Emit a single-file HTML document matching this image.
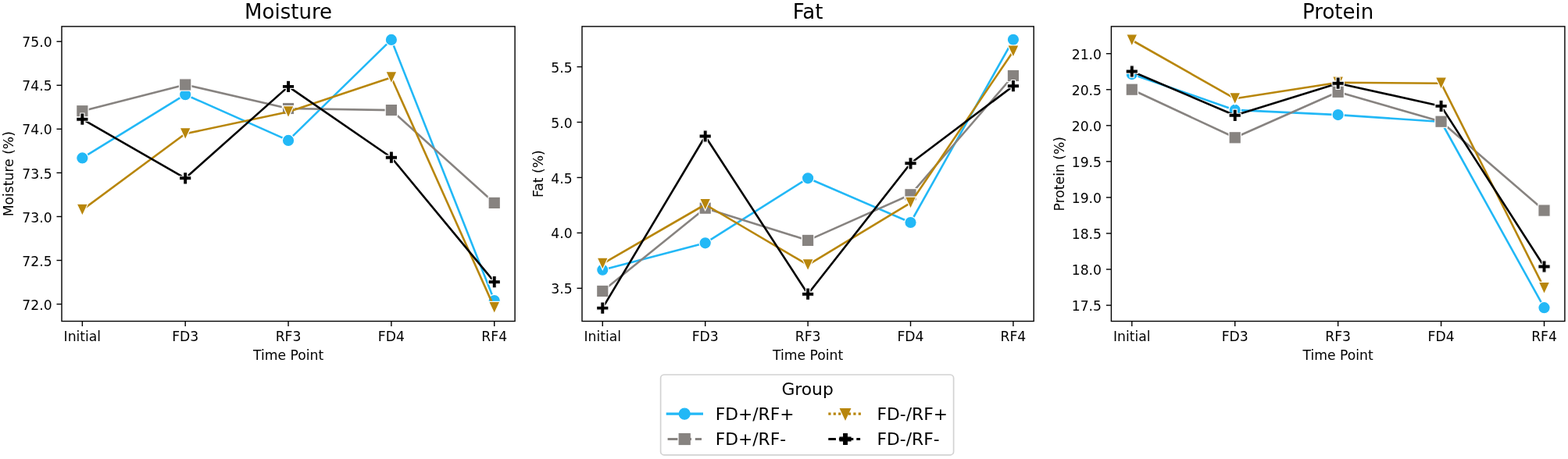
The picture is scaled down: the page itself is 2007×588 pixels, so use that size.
<!DOCTYPE html>
<html><head><meta charset="utf-8"><title>Moisture, Fat, Protein</title>
<style>
html,body{margin:0;padding:0;background:#fff;}
body{width:2007px;height:588px;overflow:hidden;}
svg{display:block;font-family:'DejaVu Sans', 'Liberation Sans', sans-serif;fill:#000;}
svg text{fill:#000;}
</style></head><body>
<svg width="2007" height="588" viewBox="0 0 2007 588"><rect x="0" y="0" width="2007" height="588" fill="#ffffff"/><g><polyline points="105.37,202.4 237.21,121.2 369.05,179.9 500.89,50.9 632.73,385.1" fill="none" stroke="#22b8f6" stroke-width="2.6" stroke-linejoin="round" stroke-linecap="butt"/><circle cx="105.37" cy="202.4" r="7.7" fill="#22b8f6" stroke="#ffffff" stroke-width="1.2" stroke-linejoin="miter"/><circle cx="237.21" cy="121.2" r="7.7" fill="#22b8f6" stroke="#ffffff" stroke-width="1.2" stroke-linejoin="miter"/><circle cx="369.05" cy="179.9" r="7.7" fill="#22b8f6" stroke="#ffffff" stroke-width="1.2" stroke-linejoin="miter"/><circle cx="500.89" cy="50.9" r="7.7" fill="#22b8f6" stroke="#ffffff" stroke-width="1.2" stroke-linejoin="miter"/><circle cx="632.73" cy="385.1" r="7.7" fill="#22b8f6" stroke="#ffffff" stroke-width="1.2" stroke-linejoin="miter"/><polyline points="105.37,142.2 237.21,108.5 369.05,139 500.89,141.1 632.73,259.9" fill="none" stroke="#878380" stroke-width="2.6" stroke-linejoin="round" stroke-linecap="butt"/><rect x="97.67" y="134.5" width="15.4" height="15.4" fill="#878380" stroke="#ffffff" stroke-width="1.2" stroke-linejoin="miter"/><rect x="229.51" y="100.8" width="15.4" height="15.4" fill="#878380" stroke="#ffffff" stroke-width="1.2" stroke-linejoin="miter"/><rect x="361.35" y="131.3" width="15.4" height="15.4" fill="#878380" stroke="#ffffff" stroke-width="1.2" stroke-linejoin="miter"/><rect x="493.19" y="133.4" width="15.4" height="15.4" fill="#878380" stroke="#ffffff" stroke-width="1.2" stroke-linejoin="miter"/><rect x="625.03" y="252.2" width="15.4" height="15.4" fill="#878380" stroke="#ffffff" stroke-width="1.2" stroke-linejoin="miter"/><polyline points="105.37,268.9 237.21,171.3 369.05,143.3 500.89,99.3 632.73,394.1" fill="none" stroke="#b8860b" stroke-width="2.6" stroke-linejoin="round" stroke-linecap="butt"/><polygon points="105.37,276.6 98.21,261.2 112.53,261.2" fill="#b8860b" stroke="#ffffff" stroke-width="1.2" stroke-linejoin="miter"/><polygon points="237.21,179 230.05,163.6 244.37,163.6" fill="#b8860b" stroke="#ffffff" stroke-width="1.2" stroke-linejoin="miter"/><polygon points="369.05,151 361.89,135.6 376.21,135.6" fill="#b8860b" stroke="#ffffff" stroke-width="1.2" stroke-linejoin="miter"/><polygon points="500.89,107 493.73,91.6 508.05,91.6" fill="#b8860b" stroke="#ffffff" stroke-width="1.2" stroke-linejoin="miter"/><polygon points="632.73,401.8 625.57,386.4 639.89,386.4" fill="#b8860b" stroke="#ffffff" stroke-width="1.2" stroke-linejoin="miter"/><polyline points="105.37,152.7 237.21,228.3 369.05,110.9 500.89,201.7 632.73,361.2" fill="none" stroke="#000000" stroke-width="2.6" stroke-linejoin="round" stroke-linecap="butt"/><polygon points="102.8,145 107.93,145 107.93,150.13 113.07,150.13 113.07,155.27 107.93,155.27 107.93,160.4 102.8,160.4 102.8,155.27 97.67,155.27 97.67,150.13 102.8,150.13" fill="#000000" stroke="#ffffff" stroke-width="1.2" stroke-linejoin="miter"/><polygon points="234.64,220.6 239.78,220.6 239.78,225.73 244.91,225.73 244.91,230.87 239.78,230.87 239.78,236 234.64,236 234.64,230.87 229.51,230.87 229.51,225.73 234.64,225.73" fill="#000000" stroke="#ffffff" stroke-width="1.2" stroke-linejoin="miter"/><polygon points="366.48,103.2 371.62,103.2 371.62,108.33 376.75,108.33 376.75,113.47 371.62,113.47 371.62,118.6 366.48,118.6 366.48,113.47 361.35,113.47 361.35,108.33 366.48,108.33" fill="#000000" stroke="#ffffff" stroke-width="1.2" stroke-linejoin="miter"/><polygon points="498.32,194 503.46,194 503.46,199.13 508.59,199.13 508.59,204.27 503.46,204.27 503.46,209.4 498.32,209.4 498.32,204.27 493.19,204.27 493.19,199.13 498.32,199.13" fill="#000000" stroke="#ffffff" stroke-width="1.2" stroke-linejoin="miter"/><polygon points="630.17,353.5 635.3,353.5 635.3,358.63 640.43,358.63 640.43,363.77 635.3,363.77 635.3,368.9 630.17,368.9 630.17,363.77 625.03,363.77 625.03,358.63 630.17,358.63" fill="#000000" stroke="#ffffff" stroke-width="1.2" stroke-linejoin="miter"/></g><rect x="79" y="33.9" width="580.1" height="377.6" fill="none" stroke="#000" stroke-width="1.4" stroke-linejoin="miter"/><line x1="72.5" y1="389.6" x2="79" y2="389.6" stroke="#000" stroke-width="1.4"/><text x="66.6" y="396.7" text-anchor="end" font-size="17.2">72.0</text><line x1="72.5" y1="333.53" x2="79" y2="333.53" stroke="#000" stroke-width="1.4"/><text x="66.6" y="340.63" text-anchor="end" font-size="17.2">72.5</text><line x1="72.5" y1="277.47" x2="79" y2="277.47" stroke="#000" stroke-width="1.4"/><text x="66.6" y="284.57" text-anchor="end" font-size="17.2">73.0</text><line x1="72.5" y1="221.4" x2="79" y2="221.4" stroke="#000" stroke-width="1.4"/><text x="66.6" y="228.5" text-anchor="end" font-size="17.2">73.5</text><line x1="72.5" y1="165.33" x2="79" y2="165.33" stroke="#000" stroke-width="1.4"/><text x="66.6" y="172.43" text-anchor="end" font-size="17.2">74.0</text><line x1="72.5" y1="109.27" x2="79" y2="109.27" stroke="#000" stroke-width="1.4"/><text x="66.6" y="116.37" text-anchor="end" font-size="17.2">74.5</text><line x1="72.5" y1="53.2" x2="79" y2="53.2" stroke="#000" stroke-width="1.4"/><text x="66.6" y="60.3" text-anchor="end" font-size="17.2">75.0</text><line x1="105.37" y1="411.5" x2="105.37" y2="418" stroke="#000" stroke-width="1.4"/><text x="105.37" y="437.3" text-anchor="middle" font-size="17.2">Initial</text><line x1="237.21" y1="411.5" x2="237.21" y2="418" stroke="#000" stroke-width="1.4"/><text x="237.21" y="437.3" text-anchor="middle" font-size="17.2">FD3</text><line x1="369.05" y1="411.5" x2="369.05" y2="418" stroke="#000" stroke-width="1.4"/><text x="369.05" y="437.3" text-anchor="middle" font-size="17.2">RF3</text><line x1="500.89" y1="411.5" x2="500.89" y2="418" stroke="#000" stroke-width="1.4"/><text x="500.89" y="437.3" text-anchor="middle" font-size="17.2">FD4</text><line x1="632.73" y1="411.5" x2="632.73" y2="418" stroke="#000" stroke-width="1.4"/><text x="632.73" y="437.3" text-anchor="middle" font-size="17.2">RF4</text><text x="369.05" y="461.2" text-anchor="middle" font-size="17.2">Time Point</text><text x="369.05" y="24.2" text-anchor="middle" font-size="26.0">Moisture</text><text x="0" y="0" transform="translate(17.1,222.7) rotate(-90)" text-anchor="middle" font-size="17.2">Moisture (%)</text><g><polyline points="771.28,345.7 902.69,311.3 1034.1,228.3 1165.51,285 1296.92,50.8" fill="none" stroke="#22b8f6" stroke-width="2.6" stroke-linejoin="round" stroke-linecap="butt"/><circle cx="771.28" cy="345.7" r="7.7" fill="#22b8f6" stroke="#ffffff" stroke-width="1.2" stroke-linejoin="miter"/><circle cx="902.69" cy="311.3" r="7.7" fill="#22b8f6" stroke="#ffffff" stroke-width="1.2" stroke-linejoin="miter"/><circle cx="1034.1" cy="228.3" r="7.7" fill="#22b8f6" stroke="#ffffff" stroke-width="1.2" stroke-linejoin="miter"/><circle cx="1165.51" cy="285" r="7.7" fill="#22b8f6" stroke="#ffffff" stroke-width="1.2" stroke-linejoin="miter"/><circle cx="1296.92" cy="50.8" r="7.7" fill="#22b8f6" stroke="#ffffff" stroke-width="1.2" stroke-linejoin="miter"/><polyline points="771.28,372.9 902.69,266.7 1034.1,307.9 1165.51,249.3 1296.92,97" fill="none" stroke="#878380" stroke-width="2.6" stroke-linejoin="round" stroke-linecap="butt"/><rect x="763.58" y="365.2" width="15.4" height="15.4" fill="#878380" stroke="#ffffff" stroke-width="1.2" stroke-linejoin="miter"/><rect x="894.99" y="259" width="15.4" height="15.4" fill="#878380" stroke="#ffffff" stroke-width="1.2" stroke-linejoin="miter"/><rect x="1026.4" y="300.2" width="15.4" height="15.4" fill="#878380" stroke="#ffffff" stroke-width="1.2" stroke-linejoin="miter"/><rect x="1157.81" y="241.6" width="15.4" height="15.4" fill="#878380" stroke="#ffffff" stroke-width="1.2" stroke-linejoin="miter"/><rect x="1289.22" y="89.3" width="15.4" height="15.4" fill="#878380" stroke="#ffffff" stroke-width="1.2" stroke-linejoin="miter"/><polyline points="771.28,337.8 902.69,262 1034.1,339.4 1165.51,259.9 1296.92,65.7" fill="none" stroke="#b8860b" stroke-width="2.6" stroke-linejoin="round" stroke-linecap="butt"/><polygon points="771.28,345.5 764.12,330.1 778.44,330.1" fill="#b8860b" stroke="#ffffff" stroke-width="1.2" stroke-linejoin="miter"/><polygon points="902.69,269.7 895.53,254.3 909.85,254.3" fill="#b8860b" stroke="#ffffff" stroke-width="1.2" stroke-linejoin="miter"/><polygon points="1034.1,347.1 1026.94,331.7 1041.26,331.7" fill="#b8860b" stroke="#ffffff" stroke-width="1.2" stroke-linejoin="miter"/><polygon points="1165.51,267.6 1158.35,252.2 1172.67,252.2" fill="#b8860b" stroke="#ffffff" stroke-width="1.2" stroke-linejoin="miter"/><polygon points="1296.92,73.4 1289.76,58 1304.08,58" fill="#b8860b" stroke="#ffffff" stroke-width="1.2" stroke-linejoin="miter"/><polyline points="771.28,394.6 902.69,174.5 1034.1,376.7 1165.51,209.3 1296.92,110.2" fill="none" stroke="#000000" stroke-width="2.6" stroke-linejoin="round" stroke-linecap="butt"/><polygon points="768.72,386.9 773.85,386.9 773.85,392.03 778.98,392.03 778.98,397.17 773.85,397.17 773.85,402.3 768.72,402.3 768.72,397.17 763.58,397.17 763.58,392.03 768.72,392.03" fill="#000000" stroke="#ffffff" stroke-width="1.2" stroke-linejoin="miter"/><polygon points="900.12,166.8 905.26,166.8 905.26,171.93 910.39,171.93 910.39,177.07 905.26,177.07 905.26,182.2 900.12,182.2 900.12,177.07 894.99,177.07 894.99,171.93 900.12,171.93" fill="#000000" stroke="#ffffff" stroke-width="1.2" stroke-linejoin="miter"/><polygon points="1031.53,369 1036.67,369 1036.67,374.13 1041.8,374.13 1041.8,379.27 1036.67,379.27 1036.67,384.4 1031.53,384.4 1031.53,379.27 1026.4,379.27 1026.4,374.13 1031.53,374.13" fill="#000000" stroke="#ffffff" stroke-width="1.2" stroke-linejoin="miter"/><polygon points="1162.94,201.6 1168.08,201.6 1168.08,206.73 1173.21,206.73 1173.21,211.87 1168.08,211.87 1168.08,217 1162.94,217 1162.94,211.87 1157.81,211.87 1157.81,206.73 1162.94,206.73" fill="#000000" stroke="#ffffff" stroke-width="1.2" stroke-linejoin="miter"/><polygon points="1294.35,102.5 1299.48,102.5 1299.48,107.63 1304.62,107.63 1304.62,112.77 1299.48,112.77 1299.48,117.9 1294.35,117.9 1294.35,112.77 1289.22,112.77 1289.22,107.63 1294.35,107.63" fill="#000000" stroke="#ffffff" stroke-width="1.2" stroke-linejoin="miter"/></g><rect x="745" y="33.9" width="578.2" height="377.6" fill="none" stroke="#000" stroke-width="1.4" stroke-linejoin="miter"/><line x1="738.5" y1="369.3" x2="745" y2="369.3" stroke="#000" stroke-width="1.4"/><text x="732.6" y="376.4" text-anchor="end" font-size="17.2">3.5</text><line x1="738.5" y1="298.38" x2="745" y2="298.38" stroke="#000" stroke-width="1.4"/><text x="732.6" y="305.48" text-anchor="end" font-size="17.2">4.0</text><line x1="738.5" y1="227.45" x2="745" y2="227.45" stroke="#000" stroke-width="1.4"/><text x="732.6" y="234.55" text-anchor="end" font-size="17.2">4.5</text><line x1="738.5" y1="156.52" x2="745" y2="156.52" stroke="#000" stroke-width="1.4"/><text x="732.6" y="163.62" text-anchor="end" font-size="17.2">5.0</text><line x1="738.5" y1="85.6" x2="745" y2="85.6" stroke="#000" stroke-width="1.4"/><text x="732.6" y="92.7" text-anchor="end" font-size="17.2">5.5</text><line x1="771.28" y1="411.5" x2="771.28" y2="418" stroke="#000" stroke-width="1.4"/><text x="771.28" y="437.3" text-anchor="middle" font-size="17.2">Initial</text><line x1="902.69" y1="411.5" x2="902.69" y2="418" stroke="#000" stroke-width="1.4"/><text x="902.69" y="437.3" text-anchor="middle" font-size="17.2">FD3</text><line x1="1034.1" y1="411.5" x2="1034.1" y2="418" stroke="#000" stroke-width="1.4"/><text x="1034.1" y="437.3" text-anchor="middle" font-size="17.2">RF3</text><line x1="1165.51" y1="411.5" x2="1165.51" y2="418" stroke="#000" stroke-width="1.4"/><text x="1165.51" y="437.3" text-anchor="middle" font-size="17.2">FD4</text><line x1="1296.92" y1="411.5" x2="1296.92" y2="418" stroke="#000" stroke-width="1.4"/><text x="1296.92" y="437.3" text-anchor="middle" font-size="17.2">RF4</text><text x="1034.1" y="461.2" text-anchor="middle" font-size="17.2">Time Point</text><text x="1034.1" y="24.2" text-anchor="middle" font-size="26.0">Fat</text><text x="0" y="0" transform="translate(694.5,222.7) rotate(-90)" text-anchor="middle" font-size="17.2">Fat (%)</text><g><polyline points="1448.79,95.1 1580.72,140.9 1712.65,147.1 1844.58,156 1976.51,394.2" fill="none" stroke="#22b8f6" stroke-width="2.6" stroke-linejoin="round" stroke-linecap="butt"/><circle cx="1448.79" cy="95.1" r="7.7" fill="#22b8f6" stroke="#ffffff" stroke-width="1.2" stroke-linejoin="miter"/><circle cx="1580.72" cy="140.9" r="7.7" fill="#22b8f6" stroke="#ffffff" stroke-width="1.2" stroke-linejoin="miter"/><circle cx="1712.65" cy="147.1" r="7.7" fill="#22b8f6" stroke="#ffffff" stroke-width="1.2" stroke-linejoin="miter"/><circle cx="1844.58" cy="156" r="7.7" fill="#22b8f6" stroke="#ffffff" stroke-width="1.2" stroke-linejoin="miter"/><circle cx="1976.51" cy="394.2" r="7.7" fill="#22b8f6" stroke="#ffffff" stroke-width="1.2" stroke-linejoin="miter"/><polyline points="1448.79,114.7 1580.72,176.3 1712.65,117.8 1844.58,155.7 1976.51,269.6" fill="none" stroke="#878380" stroke-width="2.6" stroke-linejoin="round" stroke-linecap="butt"/><rect x="1441.09" y="107" width="15.4" height="15.4" fill="#878380" stroke="#ffffff" stroke-width="1.2" stroke-linejoin="miter"/><rect x="1573.02" y="168.6" width="15.4" height="15.4" fill="#878380" stroke="#ffffff" stroke-width="1.2" stroke-linejoin="miter"/><rect x="1704.95" y="110.1" width="15.4" height="15.4" fill="#878380" stroke="#ffffff" stroke-width="1.2" stroke-linejoin="miter"/><rect x="1836.88" y="148" width="15.4" height="15.4" fill="#878380" stroke="#ffffff" stroke-width="1.2" stroke-linejoin="miter"/><rect x="1968.81" y="261.9" width="15.4" height="15.4" fill="#878380" stroke="#ffffff" stroke-width="1.2" stroke-linejoin="miter"/><polyline points="1448.79,51.5 1580.72,126.3 1712.65,105.7 1844.58,106.7 1976.51,369.1" fill="none" stroke="#b8860b" stroke-width="2.6" stroke-linejoin="round" stroke-linecap="butt"/><polygon points="1448.79,59.2 1441.63,43.8 1455.95,43.8" fill="#b8860b" stroke="#ffffff" stroke-width="1.2" stroke-linejoin="miter"/><polygon points="1580.72,134 1573.56,118.6 1587.88,118.6" fill="#b8860b" stroke="#ffffff" stroke-width="1.2" stroke-linejoin="miter"/><polygon points="1712.65,113.4 1705.49,98 1719.81,98" fill="#b8860b" stroke="#ffffff" stroke-width="1.2" stroke-linejoin="miter"/><polygon points="1844.58,114.4 1837.42,99 1851.74,99" fill="#b8860b" stroke="#ffffff" stroke-width="1.2" stroke-linejoin="miter"/><polygon points="1976.51,376.8 1969.35,361.4 1983.67,361.4" fill="#b8860b" stroke="#ffffff" stroke-width="1.2" stroke-linejoin="miter"/><polyline points="1448.79,91.5 1580.72,147.8 1712.65,106.7 1844.58,135.9 1976.51,341.5" fill="none" stroke="#000000" stroke-width="2.6" stroke-linejoin="round" stroke-linecap="butt"/><polygon points="1446.22,83.8 1451.35,83.8 1451.35,88.93 1456.49,88.93 1456.49,94.07 1451.35,94.07 1451.35,99.2 1446.22,99.2 1446.22,94.07 1441.09,94.07 1441.09,88.93 1446.22,88.93" fill="#000000" stroke="#ffffff" stroke-width="1.2" stroke-linejoin="miter"/><polygon points="1578.15,140.1 1583.28,140.1 1583.28,145.23 1588.42,145.23 1588.42,150.37 1583.28,150.37 1583.28,155.5 1578.15,155.5 1578.15,150.37 1573.02,150.37 1573.02,145.23 1578.15,145.23" fill="#000000" stroke="#ffffff" stroke-width="1.2" stroke-linejoin="miter"/><polygon points="1710.08,99 1715.22,99 1715.22,104.13 1720.35,104.13 1720.35,109.27 1715.22,109.27 1715.22,114.4 1710.08,114.4 1710.08,109.27 1704.95,109.27 1704.95,104.13 1710.08,104.13" fill="#000000" stroke="#ffffff" stroke-width="1.2" stroke-linejoin="miter"/><polygon points="1842.02,128.2 1847.15,128.2 1847.15,133.33 1852.28,133.33 1852.28,138.47 1847.15,138.47 1847.15,143.6 1842.02,143.6 1842.02,138.47 1836.88,138.47 1836.88,133.33 1842.02,133.33" fill="#000000" stroke="#ffffff" stroke-width="1.2" stroke-linejoin="miter"/><polygon points="1973.95,333.8 1979.08,333.8 1979.08,338.93 1984.21,338.93 1984.21,344.07 1979.08,344.07 1979.08,349.2 1973.95,349.2 1973.95,344.07 1968.81,344.07 1968.81,338.93 1973.95,338.93" fill="#000000" stroke="#ffffff" stroke-width="1.2" stroke-linejoin="miter"/></g><rect x="1422.4" y="33.9" width="580.5" height="377.6" fill="none" stroke="#000" stroke-width="1.4" stroke-linejoin="miter"/><line x1="1415.9" y1="391.1" x2="1422.4" y2="391.1" stroke="#000" stroke-width="1.4"/><text x="1410" y="398.2" text-anchor="end" font-size="17.2">17.5</text><line x1="1415.9" y1="345.04" x2="1422.4" y2="345.04" stroke="#000" stroke-width="1.4"/><text x="1410" y="352.14" text-anchor="end" font-size="17.2">18.0</text><line x1="1415.9" y1="298.99" x2="1422.4" y2="298.99" stroke="#000" stroke-width="1.4"/><text x="1410" y="306.09" text-anchor="end" font-size="17.2">18.5</text><line x1="1415.9" y1="252.93" x2="1422.4" y2="252.93" stroke="#000" stroke-width="1.4"/><text x="1410" y="260.03" text-anchor="end" font-size="17.2">19.0</text><line x1="1415.9" y1="206.87" x2="1422.4" y2="206.87" stroke="#000" stroke-width="1.4"/><text x="1410" y="213.97" text-anchor="end" font-size="17.2">19.5</text><line x1="1415.9" y1="160.81" x2="1422.4" y2="160.81" stroke="#000" stroke-width="1.4"/><text x="1410" y="167.91" text-anchor="end" font-size="17.2">20.0</text><line x1="1415.9" y1="114.76" x2="1422.4" y2="114.76" stroke="#000" stroke-width="1.4"/><text x="1410" y="121.86" text-anchor="end" font-size="17.2">20.5</text><line x1="1415.9" y1="68.7" x2="1422.4" y2="68.7" stroke="#000" stroke-width="1.4"/><text x="1410" y="75.8" text-anchor="end" font-size="17.2">21.0</text><line x1="1448.79" y1="411.5" x2="1448.79" y2="418" stroke="#000" stroke-width="1.4"/><text x="1448.79" y="437.3" text-anchor="middle" font-size="17.2">Initial</text><line x1="1580.72" y1="411.5" x2="1580.72" y2="418" stroke="#000" stroke-width="1.4"/><text x="1580.72" y="437.3" text-anchor="middle" font-size="17.2">FD3</text><line x1="1712.65" y1="411.5" x2="1712.65" y2="418" stroke="#000" stroke-width="1.4"/><text x="1712.65" y="437.3" text-anchor="middle" font-size="17.2">RF3</text><line x1="1844.58" y1="411.5" x2="1844.58" y2="418" stroke="#000" stroke-width="1.4"/><text x="1844.58" y="437.3" text-anchor="middle" font-size="17.2">FD4</text><line x1="1976.51" y1="411.5" x2="1976.51" y2="418" stroke="#000" stroke-width="1.4"/><text x="1976.51" y="437.3" text-anchor="middle" font-size="17.2">RF4</text><text x="1712.65" y="461.2" text-anchor="middle" font-size="17.2">Time Point</text><text x="1712.65" y="24.2" text-anchor="middle" font-size="26.0">Protein</text><text x="0" y="0" transform="translate(1361.7,222.7) rotate(-90)" text-anchor="middle" font-size="17.2">Protein (%)</text><rect x="845.6" y="480" width="375" height="102.8" rx="4.4" ry="4.4" fill="#ffffff" fill-opacity="0.8" stroke="#d2d2d2" stroke-width="1.7"/><text x="1033.6" y="505.5" text-anchor="middle" font-size="21.8">Group</text><line x1="852.7" y1="530.2" x2="900" y2="530.2" stroke="#22b8f6" stroke-width="3.2" stroke-linecap="butt"/><circle cx="876.2" cy="530.2" r="7" fill="#22b8f6" stroke="#22b8f6" stroke-width="1.2" stroke-linejoin="miter"/><text x="915.7" y="537.8" font-size="21.8">FD+/RF+</text><line x1="854.6" y1="562.5" x2="898" y2="562.5" stroke="#878380" stroke-width="3.2" stroke-linecap="butt" stroke-dasharray="12.8,4.8"/><rect x="869.2" y="555.5" width="14" height="14" fill="#878380" stroke="#878380" stroke-width="1.2" stroke-linejoin="miter"/><text x="915.7" y="569.9" font-size="21.8">FD+/RF-</text><line x1="1060.3" y1="530.2" x2="1103.7" y2="530.2" stroke="#b8860b" stroke-width="3.2" stroke-linecap="butt" stroke-dasharray="3.2,3.2"/><polygon points="1082,537.5 1075.49,523.5 1088.51,523.5" fill="#b8860b" stroke="#b8860b" stroke-width="1.2" stroke-linejoin="miter"/><text x="1122.5" y="537.8" font-size="21.8">FD-/RF+</text><line x1="1060.3" y1="562.5" x2="1103.7" y2="562.5" stroke="#000000" stroke-width="3.2" stroke-linecap="butt" stroke-dasharray="9.6,4,4.8,4"/><polygon points="1079.67,555.5 1084.33,555.5 1084.33,560.17 1089,560.17 1089,564.83 1084.33,564.83 1084.33,569.5 1079.67,569.5 1079.67,564.83 1075,564.83 1075,560.17 1079.67,560.17" fill="#000000" stroke="#000000" stroke-width="1.2" stroke-linejoin="miter"/><text x="1122.5" y="569.9" font-size="21.8">FD-/RF-</text></svg>
</body></html>
